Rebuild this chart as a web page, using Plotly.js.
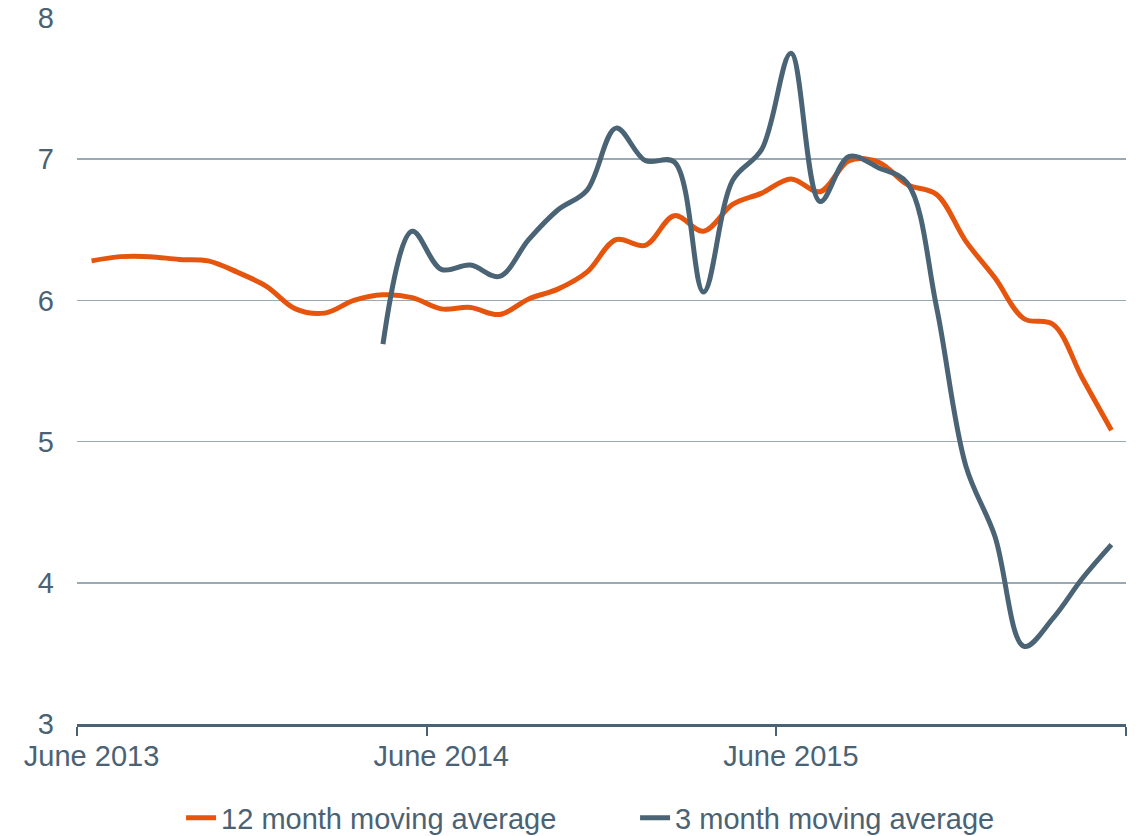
<!DOCTYPE html>
<html>
<head>
<meta charset="utf-8">
<script src="https://cdn.plot.ly/plotly-3.0.1.min.js"></script>
<style>html,body{margin:0;padding:0;background:#fff;}#chart{width:1138px;height:836px;}</style>
</head>
<body>
<div id="chart"></div>
<script>
const months = [
  "June 2013","July 2013","August 2013","September 2013","October 2013","November 2013",
  "December 2013","January 2014","February 2014","March 2014","April 2014","May 2014",
  "June 2014","July 2014","August 2014","September 2014","October 2014","November 2014",
  "December 2014","January 2015","February 2015","March 2015","April 2015","May 2015",
  "June 2015","July 2015","August 2015","September 2015","October 2015","November 2015",
  "December 2015","January 2016","February 2016","March 2016","April 2016","May 2016"
];
const avg12 = [
  6.28, 6.31, 6.31, 6.29, 6.28, 6.20,
  6.10, 5.94, 5.91, 6.00, 6.04, 6.02,
  5.94, 5.95, 5.90, 6.01, 6.08, 6.20,
  6.43, 6.39, 6.60, 6.49, 6.68, 6.76,
  6.86, 6.77, 6.99, 6.98, 6.82, 6.75,
  6.42, 6.16, 5.87, 5.83, 5.45, 5.08
];
const avg3 = [
  null, null, null, null, null, null,
  null, null, null, null, 5.69, 6.49,
  6.22, 6.25, 6.17, 6.43, 6.64, 6.78,
  7.22, 6.99, 6.98, 6.06, 6.85, 7.07,
  7.75, 6.70, 7.02, 6.94, 6.83, 5.95,
  4.83, 4.33, 3.55, 3.75, 4.03, 4.27
];
const seriesNames = ["12 month moving average", "3 month moving average"];

const textColor = "#4a6273";
const traces = [
  {x: months, y: avg12, name: seriesNames[0], type: "scatter", mode: "lines",
   line: {color: "#e6550d", width: 5, shape: "spline", smoothing: 1}, hoverinfo: "skip"},
  {x: months, y: avg3, name: seriesNames[1], type: "scatter", mode: "lines",
   line: {color: "#4a6475", width: 5, shape: "spline", smoothing: 1}, hoverinfo: "skip", connectgaps: false}
];

const layout = {
  width: 1138, height: 836,
  margin: {l: 77, r: 12, t: 18, b: 112, autoexpand: false},
  paper_bgcolor: "#ffffff", plot_bgcolor: "#ffffff",
  font: {family: "'Liberation Sans', Arial, sans-serif", size: 29, color: textColor},
  showlegend: true,
  xaxis: {
    type: "category", range: [-0.5, 35.5],
    tickmode: "linear", tick0: 0, dtick: 12, tickangle: 0, automargin: false,
    tickson: "boundaries", ticks: "outside", ticklen: 9, tickwidth: 2, tickcolor: textColor,
    showline: true, linecolor: textColor, linewidth: 3,
    showgrid: false, zeroline: false, ticklabelstandoff: 4,
    tickfont: {size: 29, color: textColor}, fixedrange: true
  },
  yaxis: {
    range: [3, 8], tickmode: "linear", tick0: 3, dtick: 1, automargin: false,
    showgrid: true, gridcolor: "#9aaab5", gridwidth: 1.5,
    zeroline: false, showline: false, ticks: "", ticklabelstandoff: 22,
    tickfont: {size: 29, color: textColor}, fixedrange: true
  },
  legend: {
    orientation: "h", x: 0.532, xanchor: "center", y: -0.133, yanchor: "middle",
    entrywidth: 409, font: {size: 29, color: textColor}, bgcolor: "rgba(0,0,0,0)"
  }
};

Plotly.newPlot("chart", traces, layout, {displayModeBar: false, staticPlot: true});
</script>
</body>
</html>
